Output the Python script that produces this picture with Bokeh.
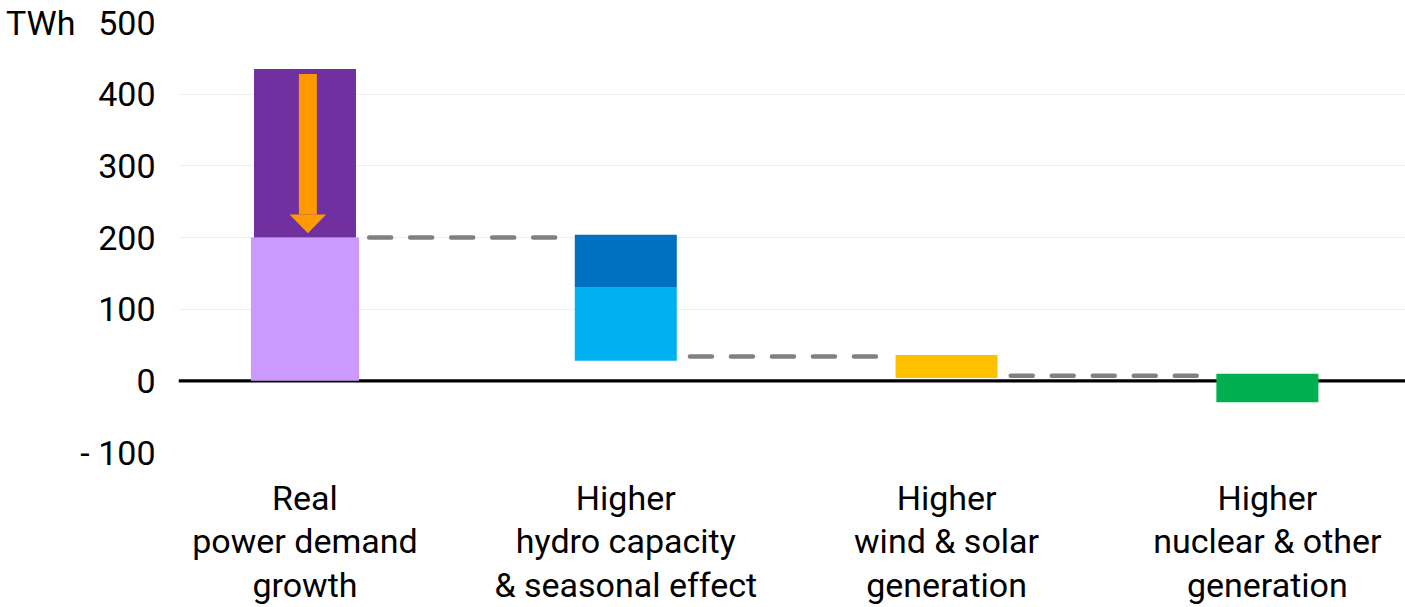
import numpy as np
from bokeh.plotting import figure
from bokeh.models import Range1d, FixedTicker, LinearAxis, Span, ColumnDataSource
from bokeh.embed import file_html
from bokeh.resources import INLINE

# ---------------- data ----------------
categories = [
    "Real\npower demand\ngrowth",
    "Higher\nhydro capacity\n& seasonal effect",
    "Higher\nwind & solar\ngeneration",
    "Higher\nnuclear & other\ngeneration",
]
base_bottom = [0, 28, 4, -30]          # TWh, lower segment start
base_top = [200, 131, 36, 10]          # TWh, lower segment end
extra_top = [435, 204]                 # TWh, upper segment end (first two bars)
connector_levels = [200, 34, 7]        # TWh, dashed connectors
y_ticks = [-100, 0, 100, 200, 300, 400, 500]
unit_label = "TWh"

base_colors = ["#CC99FF", "#00B0F0", "#FFC000", "#00B050"]
extra_colors = ["#7030A0", "#0070C0"]

FONT = "Roboto"
FS = "34px"

x = np.arange(len(categories))

p = figure(
    frame_width=1227, frame_height=430,
    x_range=Range1d(-0.3943, 3.4306), y_range=Range1d(-100, 500),
    output_backend="svg", toolbar_location=None,
    min_border_left=178, min_border_top=22, min_border_bottom=155, min_border_right=0,
)
p.outline_line_color = None
p.background_fill_color = "white"
p.border_fill_color = "white"

# grid
p.xgrid.visible = False
p.ygrid.ticker = FixedTicker(ticks=y_ticks)
p.ygrid.grid_line_color = "#EFEFEF"
p.ygrid.grid_line_width = 1

# zero line beneath bars
p.add_layout(Span(location=0, dimension="width", line_color="black",
                  line_width=3.3, level="underlay"))

# bars
base_widths = [0.337, 0.318, 0.318, 0.318]
p.vbar(source=ColumnDataSource(dict(x=x, bottom=base_bottom, top=base_top,
                                    color=base_colors, w=base_widths)),
       x="x", bottom="bottom", top="top", width="w",
       fill_color="color", line_color=None)
p.vbar(source=ColumnDataSource(dict(x=x[:2], bottom=base_top[:2], top=extra_top,
                                    color=extra_colors)),
       x="x", bottom="bottom", top="top", width=0.318,
       fill_color="color", line_color=None)

# connectors
off = 0.2
p.segment(x0=x[:-1] + off, x1=x[1:] - off, y0=connector_levels, y1=connector_levels,
          line_color="#808080", line_width=4.5, line_dash="22 19", line_cap="round")

# orange arrow: from total demand down to real demand
arrow_x = x[0] + 0.009
arrow_top = extra_top[0] - 7
arrow_tip = base_top[0] + 6
head_len = 26
shaft_w = 0.056
head_hw = 0.057
p.vbar(x=[arrow_x], bottom=[arrow_tip + head_len], top=[arrow_top], width=shaft_w,
       fill_color="#FF9900", line_color=None)
p.patch(x=[arrow_x - head_hw, arrow_x + head_hw, arrow_x],
        y=[arrow_tip + head_len, arrow_tip + head_len, arrow_tip],
        fill_color="#FF9900", line_color=None)

def style_axis(ax, standoff):
    ax.axis_line_color = None
    ax.major_tick_line_color = None
    ax.minor_tick_line_color = None
    ax.major_tick_out = 0
    ax.major_tick_in = 0
    ax.major_label_standoff = standoff
    ax.major_label_text_font = FONT
    ax.major_label_text_font_size = FS
    ax.major_label_text_color = "black"

# y axis
yax = p.yaxis[0]
yax.ticker = FixedTicker(ticks=y_ticks)
yax.major_label_overrides = {-100: "- 100"}
style_axis(yax, 23)

# unit label as an extra axis showing only the top tick
unit_ax = LinearAxis(ticker=FixedTicker(ticks=[y_ticks[-1]]),
                     major_label_overrides={y_ticks[-1]: unit_label})
style_axis(unit_ax, 2)
p.add_layout(unit_ax, "left")

# category axis
xax = p.xaxis[0]
xax.ticker = FixedTicker(ticks=list(x))
xax.major_label_overrides = {int(i): c for i, c in zip(x, categories)}
style_axis(xax, 25)
xax.major_label_text_line_height = 1.09

open("out.html", "w").write(file_html(p, INLINE))
